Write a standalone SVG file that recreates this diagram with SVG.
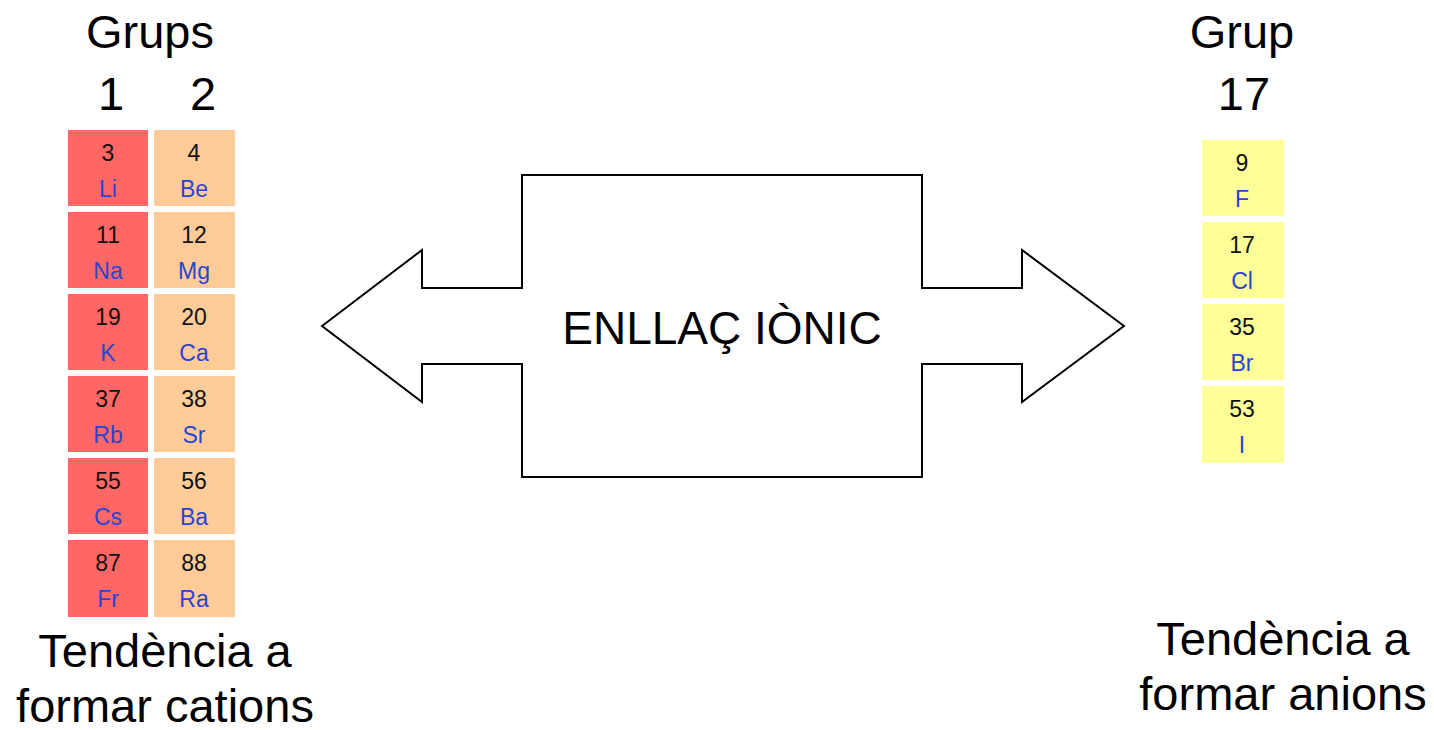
<svg xmlns="http://www.w3.org/2000/svg" width="1434" height="730" viewBox="0 0 1434 730">
<style>
.big{font-family:"Liberation Sans",Arial,sans-serif;font-size:47px;fill:#000;text-anchor:middle}
.n{font-family:"Liberation Sans",Arial,sans-serif;font-size:23px;fill:#111;text-anchor:middle}
.s{font-family:"Liberation Sans",Arial,sans-serif;font-size:23px;fill:#2a44d4;text-anchor:middle}
.g1{fill:#ff6666}.g2{fill:#ffcc99}.g17{fill:#ffff99}
</style>
<rect width="1434" height="730" fill="#fff"/>
<g id="labels-left">
<text class="big" x="150" y="48">Grups</text>
<text class="big" x="111" y="110">1</text>
<text class="big" x="203" y="110">2</text>
<text class="big" x="165" y="667">Tendència a</text>
<text class="big" x="165" y="722">formar cations</text>
</g>
<g id="labels-right">
<text class="big" x="1242" y="48">Grup</text>
<text class="big" x="1244" y="110">17</text>
<text class="big" x="1283" y="655">Tendència a</text>
<text class="big" x="1283" y="710">formar anions</text>
</g>
<g id="group1">
<rect class="g1" x="68" y="130" width="80" height="76"/><text class="n" x="108" y="161">3</text><text class="s" x="108" y="197">Li</text>
<rect class="g1" x="68" y="212" width="80" height="76"/><text class="n" x="108" y="243">11</text><text class="s" x="108" y="279">Na</text>
<rect class="g1" x="68" y="294" width="80" height="76"/><text class="n" x="108" y="325">19</text><text class="s" x="108" y="361">K</text>
<rect class="g1" x="68" y="376" width="80" height="76"/><text class="n" x="108" y="407">37</text><text class="s" x="108" y="443">Rb</text>
<rect class="g1" x="68" y="458" width="80" height="76"/><text class="n" x="108" y="489">55</text><text class="s" x="108" y="525">Cs</text>
<rect class="g1" x="68" y="540" width="80" height="77"/><text class="n" x="108" y="571">87</text><text class="s" x="108" y="607">Fr</text>
</g>
<g id="group2">
<rect class="g2" x="154" y="130" width="81" height="76"/><text class="n" x="194" y="161">4</text><text class="s" x="194" y="197">Be</text>
<rect class="g2" x="154" y="212" width="81" height="76"/><text class="n" x="194" y="243">12</text><text class="s" x="194" y="279">Mg</text>
<rect class="g2" x="154" y="294" width="81" height="76"/><text class="n" x="194" y="325">20</text><text class="s" x="194" y="361">Ca</text>
<rect class="g2" x="154" y="376" width="81" height="76"/><text class="n" x="194" y="407">38</text><text class="s" x="194" y="443">Sr</text>
<rect class="g2" x="154" y="458" width="81" height="76"/><text class="n" x="194" y="489">56</text><text class="s" x="194" y="525">Ba</text>
<rect class="g2" x="154" y="540" width="81" height="77"/><text class="n" x="194" y="571">88</text><text class="s" x="194" y="607">Ra</text>
</g>
<g id="group17">
<rect class="g17" x="1202" y="140" width="82" height="76"/><text class="n" x="1242" y="171">9</text><text class="s" x="1242" y="207">F</text>
<rect class="g17" x="1202" y="222" width="82" height="76"/><text class="n" x="1242" y="253">17</text><text class="s" x="1242" y="289">Cl</text>
<rect class="g17" x="1202" y="304" width="82" height="76"/><text class="n" x="1242" y="335">35</text><text class="s" x="1242" y="371">Br</text>
<rect class="g17" x="1202" y="386" width="82" height="77"/><text class="n" x="1242" y="417">53</text><text class="s" x="1242" y="453">I</text>
</g>
<g id="connectors">
<path d="M322,326 L422,250 L422,288 L522,288 L522,175 L922,175 L922,288 L1022,288 L1022,250 L1124,326 L1022,402 L1022,364 L922,364 L922,477 L522,477 L522,364 L422,364 L422,402 Z" fill="#fff" stroke="#000" stroke-width="2"/>
</g>
<g id="center">
<text class="big" x="722" y="344" style="font-size:46px">ENLLAÇ IÒNIC</text>
</g>
</svg>
